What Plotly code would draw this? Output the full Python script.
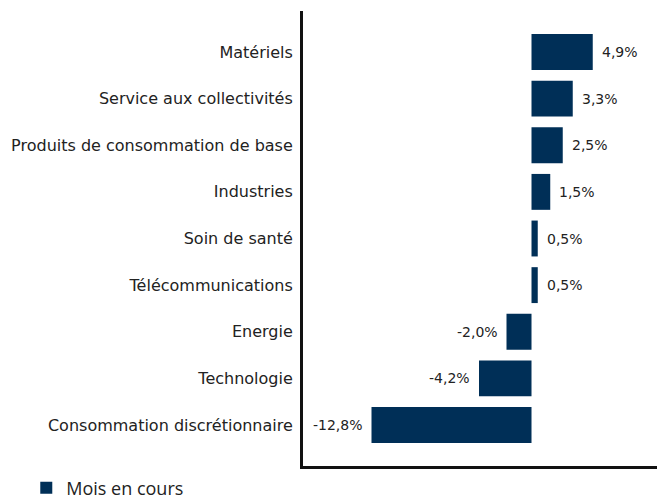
import plotly.graph_objects as go

# Sector performance for the current month (%)
sectors = [
    "Matériels",
    "Service aux collectivités",
    "Produits de consommation de base",
    "Industries",
    "Soin de santé",
    "Télécommunications",
    "Energie",
    "Technologie",
    "Consommation discrétionnaire",
]
values = [4.9, 3.3, 2.5, 1.5, 0.5, 0.5, -2.0, -4.2, -12.8]
series_name = "Mois en cours"

labels = [f"{v:.1f}%".replace(".", ",") for v in values]

fig = go.Figure(
    go.Bar(
        x=values,
        y=sectors,
        orientation="h",
        name=series_name,
        marker=dict(color="#002F57", line=dict(width=0)),
        width=0.77,
        showlegend=True,
    )
)

# Value labels placed just beyond the end of each bar
for v, s, t in zip(values, sectors, labels):
    fig.add_annotation(
        x=v,
        y=s,
        text=t,
        showarrow=False,
        xanchor="left" if v >= 0 else "right",
        xshift=7 if v >= 0 else -7,
        font=dict(family="DejaVu Sans", size=14, color="#222222"),
    )

fig.update_layout(
    width=657,
    height=499,
    margin=dict(l=303, r=0, t=11, b=33, autoexpand=False),
    paper_bgcolor="white",
    plot_bgcolor="white",
    font=dict(family="DejaVu Sans", color="#222222"),
    showlegend=True,
    legend=dict(
        orientation="h",
        xref="container",
        yref="container",
        x=0.04,
        y=0.022,
        xanchor="left",
        yanchor="middle",
        font=dict(family="Open Sans", size=18, color="#222222"),
        itemwidth=30,
    ),
    xaxis=dict(
        range=[-18.28, 10.04],
        showgrid=False,
        zeroline=False,
        showticklabels=False,
        ticks="",
        showline=True,
        linecolor="#111111",
        linewidth=3,
        fixedrange=True,
    ),
    yaxis=dict(
        range=[8.88, -0.88],
        showgrid=False,
        zeroline=False,
        ticks="",
        showline=True,
        linecolor="#111111",
        linewidth=3,
        tickfont=dict(family="DejaVu Sans", size=16, color="#222222"),
        ticklabelstandoff=4,
    ),
)

fig.write_html("out.html")
